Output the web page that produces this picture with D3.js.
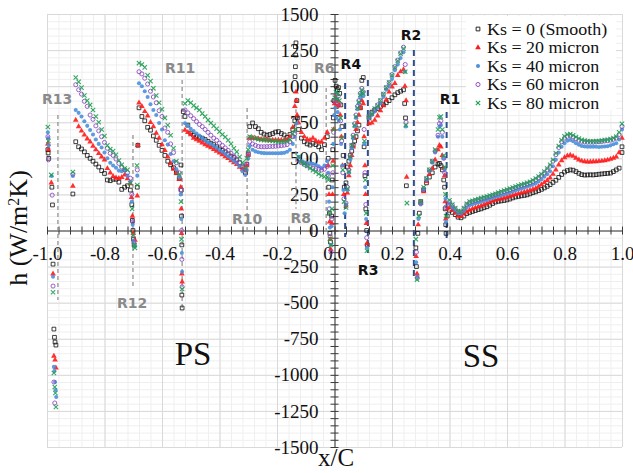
<!DOCTYPE html>
<html><head><meta charset="utf-8">
<script src="https://cdn.jsdelivr.net/npm/d3@7"></script>
<style>body{margin:0;background:#fff} svg{display:block}</style>
</head><body>
<svg id="c" width="633" height="473"></svg>
<script>
// ---------- DATA ----------
const seriesNames = ["Ks = 0 (Smooth)", "Ks = 20 micron", "Ks = 40 micron", "Ks = 60 micron", "Ks = 80 micron"];
const xTickLabels = ["-1.0","-0.8","-0.6","-0.4","-0.2","0.0","0.2","0.4","0.6","0.8","1.0"];
const yTickLabels = ["-1500","-1250","-1000","-750","-500","-250","0","250","500","750","1000","1250","1500"];

// shared x/C positions of the dense (line-like) parts
const xPos = [
 -0.90,-0.89,-0.88,-0.87,-0.86,-0.85,-0.84,-0.83,-0.82,-0.81,-0.80,-0.79,-0.78,-0.77,-0.76,-0.75,-0.74,-0.73,-0.72,-0.71,
 -0.68,-0.67,-0.66,-0.65,-0.64,-0.63,-0.62,-0.61,-0.60,-0.59,-0.58,-0.57,-0.56,-0.55,-0.54,
 -0.52,-0.51,-0.50,-0.49,-0.48,-0.47,-0.46,-0.45,-0.44,-0.43,-0.42,-0.41,-0.40,-0.39,-0.38,-0.37,-0.36,-0.35,-0.34,-0.33,-0.32,-0.31,-0.305,-0.30,
 -0.295,-0.285,-0.275,-0.265,-0.255,-0.245,-0.235,-0.225,-0.215,-0.205,-0.195,-0.185,-0.175,-0.165,-0.155,-0.145,-0.138,
 -0.125,-0.115,-0.105,-0.095,-0.085,-0.075,-0.065,-0.055,-0.045,-0.035,-0.025,
 0.040,0.045,0.050,0.055,0.060,0.065,0.070,0.075,0.080,0.085,0.090,0.095,0.100,
 0.12,0.13,0.14,0.15,0.16,0.17,0.18,0.19,0.20,0.21,0.22,0.23,0.24,
 0.30,0.31,0.32,0.33,0.34,0.35,0.36,0.365,0.37,0.375,0.38,
 0.40,0.41,0.42,0.43,0.44,0.45,0.46,0.47,0.48,0.49,0.50,0.51,0.52,0.53,0.54,0.55,0.56,0.57,0.58,0.59,
 0.60,0.61,0.62,0.63,0.64,0.65,0.66,0.67,0.68,0.69,0.70,0.71,0.72,0.73,0.74,0.75,0.76,0.77,0.78,0.79,
 0.80,0.81,0.82,0.83,0.84,0.85,0.86,0.87,0.88,0.89,0.90,0.91,0.92,0.93,0.94,0.95,0.96,0.97,0.98,0.99,1.00
];

const hSmooth = [
 615,580,565,545,520,500,480,460,440,415,395,350,345,355,355,335,285,300,310,280,
 850,790,760,715,695,655,625,590,555,520,480,455,435,400,360,
 790,730,675,660,650,645,640,630,618,605,595,580,565,555,545,530,515,505,490,470,440,400,460,530,
 720,745,720,705,680,668,660,665,672,682,685,672,662,645,665,700,760,
 700,640,615,600,592,605,595,580,560,595,650,
 330,440,480,520,550,590,620,650,690,730,850,1040,1060,
 780,820,835,845,860,872,885,900,920,940,955,965,975,
 200,280,330,370,400,440,460,465,450,420,350,
 140,125,110,92,88,100,117,125,132,138,145,150,158,165,175,187,197,202,205,208,
 212,218,226,232,236,240,243,247,254,262,268,276,285,295,306,318,333,348,368,388,
 405,415,420,418,408,396,387,384,385,386,385,387,390,392,394,396,398,408,420,432,540
];
const hKs20 = [
 765,720,690,662,635,615,585,560,535,510,490,430,400,375,365,362,368,385,360,325,
 885,860,825,795,750,720,675,640,595,555,510,465,425,400,355,
 696,680,665,640,630,620,608,595,585,575,562,550,538,525,512,500,485,470,458,440,425,415,450,520,
 640,640,638,635,632,630,628,627,627,627,627,627,627,628,650,715,860,
 745,680,650,632,627,640,622,612,615,640,680,
 170,260,380,450,520,580,640,700,750,800,850,900,880,
 740,745,765,795,830,865,905,960,995,1020,1075,1100,1115,
 190,270,340,390,430,490,560,590,580,520,430,
 160,140,120,100,98,115,130,142,150,158,165,172,180,188,196,203,210,215,220,227,
 232,238,244,250,256,260,266,272,278,285,292,305,318,333,348,365,390,420,455,485,
 505,518,523,515,502,490,482,478,476,476,477,478,480,482,485,489,495,502,510,540,640
];
const hKs40 = [
 835,815,790,757,725,696,665,630,600,575,540,500,470,450,435,415,410,418,380,338,
 1020,1000,965,925,875,835,800,745,700,625,595,530,480,425,370,
 743,725,705,690,672,658,640,625,612,600,587,573,558,545,530,515,498,482,466,445,410,385,420,500,
 585,560,548,542,538,536,535,535,535,535,535,536,538,545,560,600,650,
 510,480,472,468,466,462,455,445,432,450,480,
 180,280,400,490,570,640,720,780,840,880,920,950,930,
 780,800,825,850,880,925,975,1000,1050,1110,1150,1195,1235,
 180,280,350,410,470,540,650,720,730,650,500,
 185,160,140,120,118,135,160,175,182,188,194,200,206,212,218,225,232,238,244,250,
 256,262,270,278,285,290,296,303,310,318,326,340,355,372,390,410,445,490,540,580,
 605,622,627,618,605,594,586,582,580,580,581,580,578,580,582,584,590,598,605,630,700
];
const hKs60 = [
 1010,975,945,895,860,800,770,725,690,650,610,570,535,520,495,465,440,420,400,362,
 1100,1085,1055,1015,965,925,885,830,790,710,680,600,540,470,400,
 835,815,795,775,755,735,720,700,680,660,640,625,605,590,572,555,535,515,495,470,445,420,460,530,
 615,600,590,582,580,580,581,582,582,584,586,588,591,595,615,650,670,
 490,470,458,448,440,432,428,424,419,425,445,
 190,300,420,520,590,660,740,800,860,900,950,985,960,
 790,810,840,870,900,945,990,1025,1080,1135,1180,1230,1270,
 190,290,360,420,480,550,660,740,760,680,500,
 200,175,150,130,128,150,180,195,200,207,212,218,224,230,236,243,250,256,263,270,
 276,282,290,297,304,310,316,322,330,340,352,366,382,400,420,445,480,525,575,615,
 640,652,655,648,636,625,618,614,612,612,613,614,615,617,620,622,626,632,640,665,720
];
const hKs80 = [
 1060,1030,990,935,900,870,835,790,750,700,655,590,565,550,525,485,455,430,420,327,
 1160,1150,1130,1075,1035,985,935,885,840,780,730,660,570,480,390,
 880,900,885,865,850,835,810,790,765,745,725,705,685,665,648,625,600,570,545,510,470,430,500,560,
 650,645,638,632,628,626,625,622,620,618,616,616,617,620,628,670,700,
 510,475,462,448,432,418,405,392,380,372,370,
 160,290,410,510,590,650,730,790,850,890,940,975,950,
 790,810,845,865,900,945,990,1025,1075,1130,1175,1225,1260,
 200,300,360,420,480,560,700,785,790,700,520,
 210,180,155,135,132,155,185,200,206,212,218,224,230,236,242,248,255,262,270,277,
 283,290,297,305,312,318,323,330,338,348,360,374,390,408,430,455,490,535,585,625,
 652,665,668,660,648,637,628,623,620,618,618,619,620,623,626,629,633,640,650,680,740
];

// scattered points at the ribs / leading edges: [x/C, h]
const spikeSmooth = [
 [-0.997,560],[-0.996,537],[-0.994,500],[-0.983,300],[-0.981,177],
 [-0.979,-233],[-0.976,-683],[-0.974,-740],[-0.972,-773],[-0.969,-794],
 [-0.910,253],
 [-0.705,180],[-0.703,70],[-0.701,0],[-0.699,-60],[-0.697,-100],[-0.686,300],[-0.684,590],
 [-0.534,454],[-0.533,280],[-0.532,100],[-0.531,-100],[-0.531,-447],[-0.530,-537],[-0.526,823],
 [-0.137,1066],[-0.136,1135],[-0.135,1216],[-0.136,1274],[-0.134,1300],[-0.131,900],[-0.129,780],
 [-0.022,500],[-0.020,300],[-0.018,120],[-0.016,-20],[-0.014,-80],[-0.010,100],[-0.008,350],[-0.006,560],
 [-0.004,780],[-0.002,900],[0.002,1040],[0.006,1000],[0.010,975],[0.014,990],[0.018,950],[0.022,870],
 [0.026,720],[0.030,520],[0.034,300],
 [0.103,580],[0.106,380],[0.109,150],[0.112,0],[0.114,-100],
 [0.244,880],[0.247,780],[0.250,310],[0.283,-120],[0.285,-250],[0.290,-20],[0.295,120],
 [0.383,300],[0.385,150],[0.387,40],[0.388,-20],[0.392,100],
 [1.000,580]
];
const spikeKs20 = [
 [-0.997,600],[-0.995,560],[-0.985,330],
 [-0.979,-300],[-0.976,-870],[-0.972,-897],[-0.969,-952],
 [-0.910,308],
 [-0.706,230],[-0.703,100],[-0.700,-20],[-0.694,-66],[-0.686,240],[-0.684,590],
 [-0.535,300],[-0.533,150],[-0.532,-20],[-0.531,-300],[-0.530,-355],
 [-0.134,960],[-0.133,900],[-0.130,800],
 [-0.022,450],[-0.019,250],[-0.017,60],[-0.015,-60],[-0.013,-130],[-0.009,50],[-0.007,250],[-0.005,480],
 [-0.003,700],[0.000,880],[0.004,920],[0.008,860],[0.012,900],[0.016,870],[0.020,800],[0.024,650],
 [0.028,450],[0.032,250],
 [0.103,650],[0.106,450],[0.108,250],[0.111,50],[0.113,-90],
 [0.245,1000],[0.249,900],[0.251,370],[0.284,-180],[0.287,-300],[0.291,40],
 [0.383,380],[0.385,200],[0.387,80],[0.392,150]
];
const spikeKs40 = [
 [-0.997,680],[-0.996,640],[-0.994,590],[-0.984,378],
 [-0.979,-320],[-0.976,-945],[-0.974,-973],[-0.972,-1050],[-0.970,-1105],[-0.968,-1153],
 [-0.910,378],
 [-0.705,200],[-0.702,40],[-0.699,-70],[-0.695,-110],[-0.686,380],
 [-0.535,250],[-0.533,80],[-0.531,-156],[-0.530,-286],
 [-0.131,743],
 [-0.022,400],[-0.019,200],[-0.016,20],[-0.013,-100],[-0.010,30],[-0.007,300],[-0.004,600],[-0.001,800],
 [0.003,850],[0.007,780],[0.011,820],[0.015,760],[0.019,700],[0.023,600],[0.027,450],[0.031,280],[0.035,120],
 [0.104,600],[0.107,300],[0.110,80],[0.113,-120],
 [0.245,1100],[0.248,720],[0.284,-220],[0.288,-320],[0.292,80],
 [0.383,420],[0.386,220],[0.388,60]
];
const spikeKs60 = [
 [-0.997,650],[-0.995,490],[-0.982,245],
 [-0.979,-385],[-0.976,-1050],[-0.973,-1195],
 [-0.910,390],
 [-0.705,250],[-0.702,60],[-0.698,-80],[-0.686,420],
 [-0.535,280],[-0.532,0],[-0.531,-200],[-0.530,-390],
 [-0.021,380],[-0.018,150],[-0.015,-40],[-0.012,-150],[-0.009,80],[-0.006,400],[-0.003,680],[0.001,900],
 [0.005,940],[0.009,900],[0.013,930],[0.017,880],[0.021,760],[0.025,620],[0.029,400],[0.033,220],
 [0.103,700],[0.106,400],[0.109,180],[0.112,-50],
 [0.246,1150],[0.249,750],[0.285,-150],[0.288,-330],
 [0.383,400],[0.386,160]
];
const spikeKs80 = [
 [-0.997,717],[-0.995,620],[-0.985,385],
 [-0.979,-428],[-0.976,-987],[-0.973,-1084],[-0.971,-1126],[-0.969,-1223],
 [-0.910,405],
 [-0.704,150],[-0.700,-30],[-0.696,-100],[-0.694,-121],[-0.687,450],[-0.686,315],
 [-0.534,200],[-0.532,-60],[-0.530,-405],
 [-0.021,350],[-0.018,120],[-0.015,-60],[-0.012,-100],[-0.009,150],[-0.006,450],[-0.003,700],[0.001,920],
 [0.005,960],[0.009,910],[0.013,950],[0.017,900],[0.021,780],[0.025,640],[0.029,420],[0.033,200],
 [0.104,620],[0.107,350],[0.110,120],[0.113,-140],
 [0.246,1100],[0.248,730],[0.252,190],[0.283,-60],[0.287,-340],[0.293,100],
 [0.384,440],[0.386,250],[0.388,100]
];

// ribs: name, x/C, dashed line top & bottom (h), label position (x/C, h)
const ribNames  = ["R13","R12","R11","R10","R8","R6","R4","R3","R2","R1"];
const ribX      = [-0.962,-0.701,-0.530,-0.304,-0.134,-0.029,0.037,0.116,0.276,0.390];
const ribTop    = [800,662,1043,849,840,988,1022,1043,1250,821];
const ribBottom = [-482,-398,-560,0,150,0,-45,-156,-330,-52];
const ribLabelX = [-0.965,-0.704,-0.537,-0.304,-0.117,-0.036,0.057,0.117,0.266,0.402];
const ribLabelH = [911,-502,1126,80,87,1125,1153,-274,1354,911];
const ribSide   = ["PS","PS","PS","PS","PS","PS","SS","SS","SS","SS"];

// ---------- CHART ----------
const svg = d3.select("#c");
const x = d3.scaleLinear().domain([-1, 1]).range([47, 622]);
const y = d3.scaleLinear().domain([-1500, 1500]).range([447, 14]);
const serif = "'Liberation Serif','Times New Roman',serif";

const xMinor = d3.range(-1, 1.0001, 0.04).map(v => +v.toFixed(2));
const yMinor = d3.range(-1500, 1501, 50);
const xMajor = xTickLabels.map(Number);
const yMajor = yTickLabels.map(Number);

// grid
const grid = svg.append("g");
function vGrid(vals, col) {
  grid.append("g").attr("transform", `translate(0,${y(-1500)})`)
    .call(d3.axisBottom(x).tickValues(vals).tickSize(-(y(-1500) - y(1500))).tickFormat(""))
    .call(g => g.select(".domain").remove())
    .selectAll("line").attr("stroke", col);
}
function hGrid(vals, col) {
  grid.append("g").attr("transform", `translate(${x(-1)},0)`)
    .call(d3.axisLeft(y).tickValues(vals).tickSize(-(x(1) - x(-1))).tickFormat(""))
    .call(g => g.select(".domain").remove())
    .selectAll("line").attr("stroke", col);
}
vGrid(xMinor, "#efefef"); hGrid(yMinor, "#efefef");
vGrid(xMajor, "#d9d9d9"); hGrid(yMajor, "#d9d9d9");

// axes through origin
const axCol = "#3a3a3a";
const gx = svg.append("g").attr("transform", `translate(0,${y(0)})`)
  .call(d3.axisBottom(x).tickValues(xMinor).tickFormat("").tickSizeOuter(0));
gx.selectAll(".tick line").attr("y1", -4).attr("y2", 4).attr("stroke", axCol);
gx.select(".domain").attr("stroke", axCol);
const gy = svg.append("g").attr("transform", `translate(${x(0)},0)`)
  .call(d3.axisLeft(y).tickValues(yMinor).tickFormat("").tickSizeOuter(0));
gy.selectAll(".tick line").attr("x1", -4).attr("x2", 4).attr("stroke", axCol);
gy.select(".domain").attr("stroke", axCol);

// tick labels
const gxl = svg.append("g").attr("transform", `translate(0,${y(0)})`)
  .call(d3.axisBottom(x).tickValues(xMajor).tickSize(0).tickPadding(16)
        .tickFormat((d, i) => xTickLabels[i]));
gxl.select(".domain").remove();
gxl.selectAll("text").attr("font-family", serif).attr("font-size", 19).attr("fill", "#111");
const gyl = svg.append("g").attr("transform", `translate(${x(0)},0)`)
  .call(d3.axisLeft(y).tickValues(yMajor).tickSize(0).tickPadding(16)
        .tickFormat((d, i) => yTickLabels[i]));
gyl.select(".domain").remove();
gyl.selectAll("text").attr("font-family", serif).attr("font-size", 19).attr("fill", "#111");

// rib dashed lines
const ribs = ribNames.map((n, i) => ({n, x: ribX[i], t: ribTop[i], b: ribBottom[i], lx: ribLabelX[i], lh: ribLabelH[i], side: ribSide[i]}));
svg.append("g").selectAll("line").data(ribs).join("line")
  .attr("x1", d => x(d.x)).attr("x2", d => x(d.x))
  .attr("y1", d => y(d.t)).attr("y2", d => y(d.b))
  .attr("stroke", d => d.side === "PS" ? "#8c8c8c" : "#2f4d8a")
  .attr("stroke-width", d => d.side === "PS" ? 1.2 : 2)
  .attr("stroke-dasharray", d => d.side === "PS" ? "4,3" : "6,4");

// series
const series = [
  {name: seriesNames[0], h: hSmooth, s: spikeSmooth, type: d3.symbolSquare, size: 14, fill: "none", stroke: "#111", sw: 0.9},
  {name: seriesNames[1], h: hKs20, s: spikeKs20, type: d3.symbolTriangle, size: 14, fill: "#ff1a1a", stroke: "none", sw: 0},
  {name: seriesNames[2], h: hKs40, s: spikeKs40, type: d3.symbolCircle, size: 13, fill: "#4a90dc", stroke: "none", sw: 0},
  {name: seriesNames[3], h: hKs60, s: spikeKs60, type: d3.symbolCircle, size: 13, fill: "none", stroke: "#8e4fc2", sw: 1},
  {name: seriesNames[4], h: hKs80, s: spikeKs80, type: d3.symbolTimes, size: 14, fill: "none", stroke: "#1e9e52", sw: 1.1}
];
series.forEach(sr => {
  const pts = xPos.map((xv, i) => [xv, sr.h[i]]).filter(p => p[1] != null).concat(sr.s);
  const sym = d3.symbol().type(sr.type).size(sr.size);
  svg.append("g").selectAll("path").data(pts).join("path")
    .attr("transform", d => `translate(${x(d[0])},${y(d[1])})`)
    .attr("d", sym)
    .attr("fill", sr.fill).attr("stroke", sr.stroke).attr("stroke-width", sr.sw)
    .attr("opacity", 0.9);
});

// rib labels
svg.append("g").selectAll("text").data(ribs).join("text")
  .attr("x", d => x(d.lx)).attr("y", d => y(d.lh))
  .attr("text-anchor", "middle").attr("dominant-baseline", "central")
  .attr("font-family", "'DejaVu Sans',sans-serif").attr("font-weight", "bold").attr("font-size", 14)
  .attr("fill", d => d.side === "PS" ? "#8a8a8a" : "#111")
  .text(d => d.n);

// legend
const lg = svg.append("g");
lg.append("rect").attr("x", 466).attr("y", 16).attr("width", 150).attr("height", 94).attr("fill", "#fff");
series.forEach((sr, i) => {
  const cy = 29 + i * 18.5;
  lg.append("path").attr("transform", `translate(478,${cy})`)
    .attr("d", d3.symbol().type(sr.type).size(sr.size)())
    .attr("fill", sr.fill).attr("stroke", sr.stroke).attr("stroke-width", sr.sw);
  const t = lg.append("text").attr("x", 487).attr("y", cy).attr("dominant-baseline", "central")
    .attr("font-family", serif).attr("font-size", 16).attr("fill", "#111").text(sr.name);
  const w = t.node().getComputedTextLength();
  t.attr("textLength", w * 1.12).attr("lengthAdjust", "spacingAndGlyphs");
});

// side labels
svg.append("text").attr("x", 193).attr("y", 365).attr("text-anchor", "middle")
  .attr("font-family", serif).attr("font-size", 33).attr("fill", "#111").text("PS");
svg.append("text").attr("x", 481).attr("y", 367).attr("text-anchor", "middle")
  .attr("font-family", serif).attr("font-size", 33).attr("fill", "#111").text("SS");

// axis titles
const yt = svg.append("text").attr("transform", "translate(27,228) rotate(-90)")
  .attr("text-anchor", "middle").attr("font-family", serif).attr("font-size", 26).attr("fill", "#111");
yt.append("tspan").text("h (W/m");
yt.append("tspan").attr("baseline-shift", "super").attr("font-size", 16).text("2");
yt.append("tspan").text("K)");
svg.append("text").attr("x", 336).attr("y", 466).attr("text-anchor", "middle")
  .attr("font-family", serif).attr("font-size", 25).attr("fill", "#111").text("x/C");
</script>
</body></html>
